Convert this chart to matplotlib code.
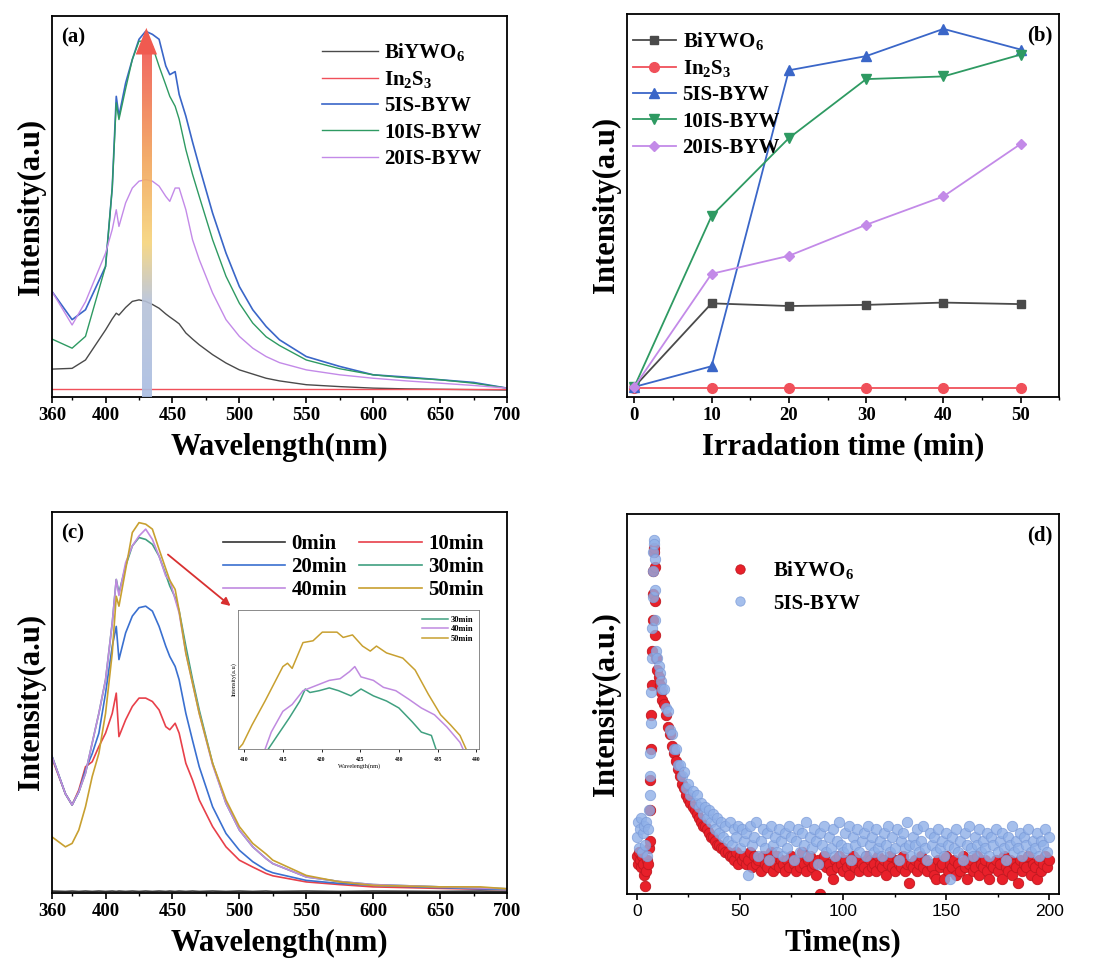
import numpy as np
import matplotlib
matplotlib.use("Agg")
import matplotlib.pyplot as plt
from matplotlib.colors import LinearSegmentedColormap
from matplotlib.ticker import MultipleLocator

plt.rcParams['font.family'] = ['Liberation Serif', 'DejaVu Serif']
plt.rcParams['font.weight'] = 'bold'
plt.rcParams['mathtext.fontset'] = 'custom'
plt.rcParams['mathtext.rm'] = 'Liberation Serif:bold'
plt.rcParams['mathtext.bf'] = 'Liberation Serif:bold'
plt.rcParams['mathtext.it'] = 'Liberation Serif:bold:italic'
plt.rcParams['axes.linewidth'] = 1.3

# ---------------- (a) PL spectra of the samples ----------------
wl_a = [360, 375, 385, 400, 405, 408, 410, 415, 420, 425, 430, 435, 440, 445, 448, 452,
        455, 460, 465, 470, 480, 490, 500, 510, 520, 530, 550, 575, 600, 625, 650, 675, 700]
byw_a = [7.3, 7.5, 9.7, 17.6, 20.5, 22.0, 21.5, 23.5, 25.1, 25.5, 25.1, 24.3, 23.3, 21.8, 21.0, 20.0,
         19.2, 16.8, 15.2, 13.7, 11.1, 8.9, 7.1, 6.0, 4.9, 4.2, 3.2, 2.7, 2.3, 2.1, 2.0, 1.9, 1.8]
ins_a = [2.1] * len(wl_a)
is5_a = [27.7, 20.3, 22.9, 34.3, 55.0, 79.0, 73.8, 82.5, 88.7, 94.0, 96.1, 95.3, 94.0, 87.0, 84.7, 85.5,
         79.5, 73.8, 67.0, 60.6, 48.3, 37.8, 29.0, 22.9, 18.5, 15.0, 10.6, 8.0, 5.8, 5.2, 4.5, 3.8, 2.3]
is10_a = [15.2, 12.8, 15.9, 34.3, 55.0, 77.3, 72.9, 81.0, 88.7, 93.5, 93.5, 92.2, 86.9, 82.0, 79.0, 76.4,
          73.0, 65.0, 58.5, 52.7, 41.3, 31.7, 24.6, 19.4, 15.8, 13.5, 9.7, 7.4, 5.8, 5.0, 4.5, 3.6, 2.3]
is20_a = [27.7, 18.9, 25.0, 37.8, 44.0, 49.2, 44.8, 51.0, 54.9, 56.7, 57.1, 56.7, 55.4, 52.7, 51.4, 54.9,
          54.9, 49.2, 41.3, 36.1, 27.3, 20.3, 15.9, 12.8, 10.6, 9.0, 7.1, 5.8, 4.9, 4.2, 3.6, 3.0, 2.3]
wl_ticks = [360, 400, 450, 500, 550, 600, 650, 700]

# ---------------- (b) peak intensity vs irradiation time ----------------
time_b = [0, 10, 20, 30, 40, 50]
byw_b = [2.6, 24.4, 23.7, 24.0, 24.6, 24.2]
ins_b = [2.4, 2.4, 2.4, 2.4, 2.4, 2.4]
is5_b = [2.6, 8.0, 85.2, 88.9, 96.0, 90.6]
is10_b = [2.6, 47.2, 67.5, 82.9, 83.6, 89.3]
is20_b = [2.6, 32.1, 36.8, 44.9, 52.3, 66.0]

# ---------------- (c) spectra vs irradiation time ----------------
wl_c = [360, 370, 375, 380, 385, 390, 395, 400, 405, 408, 410, 415, 420, 425, 430, 435, 440, 445,
        448, 452, 455, 460, 465, 470, 480, 490, 500, 510, 520, 525, 550, 575, 600, 650, 680, 700]
m0_c = [0.5, 0.4, 0.5, 0.4, 0.5, 0.4, 0.5, 0.4, 0.5, 0.4, 0.5, 0.4, 0.5, 0.4, 0.5, 0.4, 0.5, 0.4,
        0.5, 0.4, 0.5, 0.4, 0.5, 0.4, 0.5, 0.4, 0.5, 0.4, 0.5, 0.4, 0.5, 0.4, 0.5, 0.4, 0.5, 0.4]
m10_c = [35.3, 26.0, 23.1, 27.0, 33.1, 34.4, 38.4, 41.9, 47.1, 52.4, 41.0, 45.4, 48.9, 51.1, 51.1, 50.2,
         48.0, 43.6, 42.8, 44.5, 41.9, 34.0, 29.6, 24.4, 17.4, 12.1, 8.6, 6.8, 5.1, 4.5, 2.9, 2.2, 1.6, 1.2, 1.0, 0.9]
m20_c = [35.8, 26.0, 23.1, 26.5, 32.3, 36.5, 41.9, 52.4, 64.7, 69.9, 61.2, 68.2, 72.6, 74.8, 75.2, 73.9,
         69.9, 64.7, 62.0, 59.4, 55.9, 47.1, 40.0, 33.1, 22.6, 15.6, 11.2, 8.2, 6.0, 5.3, 3.3, 2.5, 2.0, 1.4, 1.1, 0.9]
m30_c = [35.8, 26.0, 23.1, 26.5, 31.4, 39.3, 47.1, 55.9, 70.8, 82.2, 78.7, 85.7, 91.0, 93.2, 92.7, 91.4,
         88.3, 83.5, 80.5, 77.5, 74.0, 64.7, 56.0, 48.0, 34.0, 23.5, 16.5, 12.1, 9.0, 7.7, 4.2, 3.0, 2.2, 1.6, 1.3, 1.1]
m40_c = [35.8, 26.0, 23.1, 26.5, 31.4, 39.3, 47.1, 55.9, 70.8, 82.2, 78.0, 86.6, 91.0, 93.6, 95.4, 92.7,
         88.3, 83.1, 82.0, 77.0, 73.4, 62.9, 55.0, 47.1, 33.6, 23.5, 16.5, 12.1, 9.0, 7.7, 4.2, 3.0, 2.2, 1.6, 1.3, 1.1]
m50_c = [14.7, 12.1, 13.0, 16.5, 22.6, 30.5, 36.6, 47.1, 62.9, 77.8, 75.2, 84.8, 94.5, 97.1, 96.7, 95.4,
         90.1, 85.0, 82.0, 79.6, 74.0, 62.9, 55.0, 47.1, 34.0, 24.4, 17.4, 13.0, 10.2, 8.6, 4.6, 2.9, 2.0, 1.6, 1.6, 1.1]

# inset of (c)
in30_x = [413.1, 414.3, 415.8, 417.2, 417.9, 418.5, 419.7, 421.0, 422.2, 423.8, 425.1, 426.7, 428.4,
          430.0, 431.7, 432.9, 434.2, 434.8]
in30_y = [0, 9.9, 22.2, 34.6, 43.2, 40.7, 42.0, 44.0, 42.0, 38.3, 43.2, 38.3, 34.6, 29.6, 19.8, 12.3, 9.9, 0]
in40_x = [412.7, 413.5, 415.0, 416.2, 417.6, 419.3, 421.0, 422.4, 423.6, 424.3, 425.1, 426.7, 428.0,
          429.6, 431.3, 432.9, 434.6, 436.2, 437.9, 438.3]
in40_y = [0, 12.3, 27.2, 32.1, 42.0, 45.7, 49.4, 50.6, 55.6, 59.3, 51.9, 49.4, 44.4, 42.0, 35.8, 29.6,
          24.7, 16.0, 4.9, 0]
in50_x = [409.2, 409.8, 411.0, 412.7, 415.0, 415.6, 416.2, 417.6, 418.9, 420.1, 422.0, 422.8, 424.0,
          425.3, 426.3, 427.1, 428.4, 430.5, 432.1, 433.8, 435.4, 436.7, 437.9, 438.7]
in50_y = [0, 3.7, 17.3, 34.6, 59.3, 61.7, 58.0, 76.5, 77.8, 84.0, 84.0, 80.2, 82.0, 74.0, 70.4, 74.0,
          69.1, 65.4, 56.8, 39.5, 24.7, 17.3, 9.9, 0]

# ---------------- (d) TRPL decay ----------------
t_d = np.concatenate([np.arange(0, 6.01, 0.5), np.arange(6.2, 9.01, 0.2),
                      np.arange(9.5, 12.01, 0.5), np.arange(13, 201, 1)])
is5_d = [15, 19, 12, 17, 20, 11, 16, 18, 13, 19, 10, 17, 22,
         26, 31, 37, 45, 53, 62, 70, 78, 85, 90, 93, 92, 88, 80, 72,
         64, 62, 60, 58, 56, 54,
         54, 49, 48, 43, 42, 38, 38, 34, 34, 31, 32, 28, 29, 26, 27, 24, 26, 23, 24, 21,
         23, 20, 22, 19, 21, 17, 20, 16, 19, 15, 18, 14, 19, 13, 17, 15, 18, 12, 17, 14,
         16, 5, 18, 13, 15, 19, 10, 14, 17, 12, 16, 9, 18, 13, 15, 11, 17, 14, 10, 16,
         12, 18, 15, 9, 14, 17, 11, 16, 13, 19, 10, 15, 12, 17, 14, 8, 16, 13, 18, 11,
         15, 12, 17, 10, 14, 19, 13, 11, 16, 12, 18, 9, 15, 13, 17, 11, 14, 16, 10, 18,
         13, 15, 11, 17, 12, 14, 10, 16, 13, 18, 11, 15, 12, 17, 9, 14, 16, 12, 19, 13,
         10, 15, 13, 17, 11, 14, 18, 12, 9, 16, 13, 15, 11, 17, 12, 14, 10, 16, 13, 4,
         15, 12, 17, 11, 14, 9, 16, 13, 18, 12, 10, 15, 13, 17, 11, 14, 12, 16, 10, 15,
         13, 17, 11, 14, 16, 12, 9, 15, 13, 18, 11, 14, 12, 16, 10, 15, 13, 17, 11, 14,
         12, 16, 10, 14, 13, 17, 11, 15]
byw_d = [10, 8, 11, 9, 7, 10, 8, 5, 2, 6, 9, 8, 12,
         14, 22, 30, 38, 47, 55, 64, 72, 79, 85, 90, 91, 86, 77, 68,
         62, 59, 57, 55, 53, 51,
         50, 47, 44, 42, 39, 37, 35, 33, 31, 29, 28, 26, 25, 24, 23, 22, 21, 20, 19, 18,
         18, 17, 16, 15, 15, 14, 13, 13, 12, 12, 11, 11, 10, 10, 9, 11, 8, 10, 9, 10,
         8, 9, 11, 7, 10, 8, 9, 6, 10, 8, 7, 9, 11, 6, 8, 10, 7, 9, 8, 6,
         9, 7, 10, 8, 6, 9, 7, 11, 8, 6, 9, 10, 7, 8, 5, 9, 0, 8, 10, 7,
         8, 6, 4, 9, 7, 10, 8, 6, 9, 7, 5, 8, 10, 7, 9, 6, 8, 7, 10, 6,
         9, 7, 8, 6, 10, 8, 7, 9, 5, 8, 10, 7, 6, 9, 8, 7, 10, 6, 8, 3,
         8, 7, 9, 6, 8, 10, 7, 9, 6, 8, 7, 5, 4, 9, 7, 8, 4, 10, 6, 8,
         7, 9, 5, 8, 6, 10, 7, 4, 8, 9, 6, 7, 10, 5, 8, 7, 9, 6, 4, 8,
         7, 9, 6, 8, 4, 10, 7, 6, 9, 5, 8, 7, 3, 9, 6, 8, 7, 10, 5, 8,
         7, 4, 9, 6, 8, 10, 7, 9]

c_byw, c_ins, c_5, c_10, c_20 = '#4a4a4a', '#f0505a', '#3a66c8', '#2e9a62', '#c38ae8'

fig = plt.figure(figsize=(11.07, 9.68), dpi=100)
ax_a = fig.add_axes([0.047, 0.590, 0.411, 0.393])
ax_b = fig.add_axes([0.566, 0.590, 0.391, 0.396])
ax_c = fig.add_axes([0.047, 0.0775, 0.411, 0.394])
ax_d = fig.add_axes([0.566, 0.0764, 0.391, 0.393])


def style(ax, xlabel, minor, ylabel='Intensity(a.u)'):
    ax.set_yticks([])
    ax.xaxis.set_minor_locator(MultipleLocator(minor))
    ax.tick_params(axis='x', which='major', direction='out', length=4, width=1.2, labelsize=13.5)
    ax.tick_params(axis='x', which='minor', direction='out', length=2.5, width=1.0)
    ax.set_xlabel(xlabel, fontsize=22, fontweight='bold', labelpad=6)
    ax.set_ylabel(ylabel, fontsize=22, fontweight='bold', labelpad=4)


# (a)
ax_a.plot(wl_a, byw_a, color=c_byw, lw=1.0, label='BiYWO$_6$')
ax_a.plot(wl_a, ins_a, color=c_ins, lw=1.0, label='In$_2$S$_3$')
ax_a.plot(wl_a, is5_a, color=c_5, lw=1.2, label='5IS-BYW')
ax_a.plot(wl_a, is10_a, color=c_10, lw=1.0, label='10IS-BYW')
ax_a.plot(wl_a, is20_a, color=c_20, lw=1.0, label='20IS-BYW')
grad = LinearSegmentedColormap.from_list(
    'g', [(0, '#a9bde2'), (0.28, '#b7c2d8'), (0.45, '#f6d47a'), (0.7, '#f2a35a'), (1.0, '#f05a50')])
bar_x0, bar_x1, bar_top = 427, 434, 90
ax_a.imshow(np.linspace(0, 1, 256).reshape(-1, 1), cmap=grad, origin='lower', aspect='auto',
            extent=(bar_x0, bar_x1, 0, bar_top), zorder=3, alpha=0.9)
head_w, head_h = 4.5, 7
ax_a.fill([bar_x0 - head_w, (bar_x0 + bar_x1) / 2, bar_x1 + head_w],
          [bar_top, bar_top + head_h, bar_top], color='#f05a50', zorder=3, lw=0)
ax_a.set_xlim(360, 700)
ax_a.set_ylim(0, 100)
ax_a.set_xticks(wl_ticks)
style(ax_a, 'Wavelength(nm)', 25)
ax_a.legend(loc='upper right', bbox_to_anchor=(0.985, 0.985), frameon=False, fontsize=15,
            handlelength=2.7, labelspacing=0.3, handletextpad=0.3)
ax_a.text(0.02, 0.97, '(a)', transform=ax_a.transAxes, fontsize=15, fontweight='bold', va='top')

# (b)
ax_b.plot(time_b, byw_b, color=c_byw, marker='s', ms=6, lw=1.3, label='BiYWO$_6$')
ax_b.plot(time_b, ins_b, color=c_ins, marker='o', ms=7, lw=1.3, label='In$_2$S$_3$')
ax_b.plot(time_b, is5_b, color=c_5, marker='^', ms=7, lw=1.3, label='5IS-BYW')
ax_b.plot(time_b, is10_b, color=c_10, marker='v', ms=7, lw=1.3, label='10IS-BYW')
ax_b.plot(time_b, is20_b, color=c_20, marker='D', ms=5.5, lw=1.3, label='20IS-BYW')
ax_b.set_xlim(-1, 55)
ax_b.set_ylim(0, 100)
ax_b.set_xticks(time_b)
style(ax_b, 'Irradation time (min)', 5)
ax_b.legend(loc='upper left', bbox_to_anchor=(-0.015, 0.99), frameon=False, fontsize=15,
            handlelength=2.1, labelspacing=0.3, handletextpad=0.3, borderaxespad=0.2)
ax_b.text(0.985, 0.97, '(b)', transform=ax_b.transAxes, fontsize=15, fontweight='bold',
          va='top', ha='right')

# (c)
cols_c = ['#333333', '#e8404a', '#3a70d0', '#40a080', '#c08ae0', '#c8a030']
series_c = [m0_c, m10_c, m20_c, m30_c, m40_c, m50_c]
names_c = ['0min', '10min', '20min', '30min', '40min', '50min']
lines_c = []
for ys, col, nm in zip(series_c, cols_c, names_c):
    ln, = ax_c.plot(wl_c, ys, color=col, lw=1.2, label=nm)
    lines_c.append(ln)
ax_c.set_xlim(360, 700)
ax_c.set_ylim(0, 100)
ax_c.set_xticks(wl_ticks)
style(ax_c, 'Wavelength(nm)', 25)
order = [0, 2, 4, 1, 3, 5]
ax_c.legend([lines_c[i] for i in order], [names_c[i] for i in order], ncol=2, loc='upper right',
            bbox_to_anchor=(0.99, 0.99), frameon=False, fontsize=15, handlelength=3.0,
            labelspacing=0.15, handletextpad=0.3, columnspacing=0.6)
ax_c.text(0.02, 0.97, '(c)', transform=ax_c.transAxes, fontsize=15, fontweight='bold', va='top')
ax_c.annotate('', xy=(495, 74.8), xytext=(445, 89.2),
              arrowprops=dict(arrowstyle='-|>', color='#d83030', lw=1.3, mutation_scale=12))

ins = fig.add_axes([0.215, 0.226, 0.218, 0.144])
ins.plot(in30_x, in30_y, color='#40a080', lw=1.1, label='30min')
ins.plot(in40_x, in40_y, color='#c08ae0', lw=1.1, label='40min')
ins.plot(in50_x, in50_y, color='#c8a030', lw=1.1, label='50min')
ins.set_xlim(409.2, 440.4)
ins.set_ylim(0, 100)
ins.set_xticks([410, 415, 420, 425, 430, 435, 440])
ins.set_yticks([])
ins.tick_params(axis='x', labelsize=4, length=2, width=0.6)
for s in ins.spines.values():
    s.set_linewidth(0.6)
    s.set_color('#777777')
ins.set_xlabel('Wavelength(nm)', fontsize=4.5, labelpad=1)
ins.set_ylabel('Intensity(a.u)', fontsize=4.5, labelpad=1)
ins.legend(loc='upper right', frameon=False, fontsize=6, handlelength=3.2, labelspacing=0.2,
           handletextpad=0.3, borderaxespad=0.3)

# (d)
ax_d.plot(t_d, byw_d, ls='none', marker='o', ms=7.5, color='#e8202a', mec='#c01820', mew=0.6,
          label='BiYWO$_6$')
ax_d.plot(t_d, is5_d, ls='none', marker='o', ms=7.5, color='#8fb0e8', mec='#7a9ad8', mew=0.6,
          alpha=0.8, label='5IS-BYW')
ax_d.set_xlim(-5, 205)
ax_d.set_ylim(0, 100)
ax_d.xaxis.set_major_locator(MultipleLocator(50))
style(ax_d, 'Time(ns)', 25, ylabel='Intensity(a.u.)')
ax_d.tick_params(axis='x', which='major', labelsize=12.5)
for lb in ax_d.get_xticklabels():
    lb.set_fontfamily('Liberation Sans')
    lb.set_fontweight('normal')
ax_d.legend(loc='upper left', bbox_to_anchor=(0.17, 0.93), frameon=False, fontsize=15,
            handletextpad=0.6, labelspacing=0.6, markerscale=0.9)
ax_d.text(0.985, 0.97, '(d)', transform=ax_d.transAxes, fontsize=15, fontweight='bold',
          va='top', ha='right')

fig.savefig('out.png', dpi=100)
